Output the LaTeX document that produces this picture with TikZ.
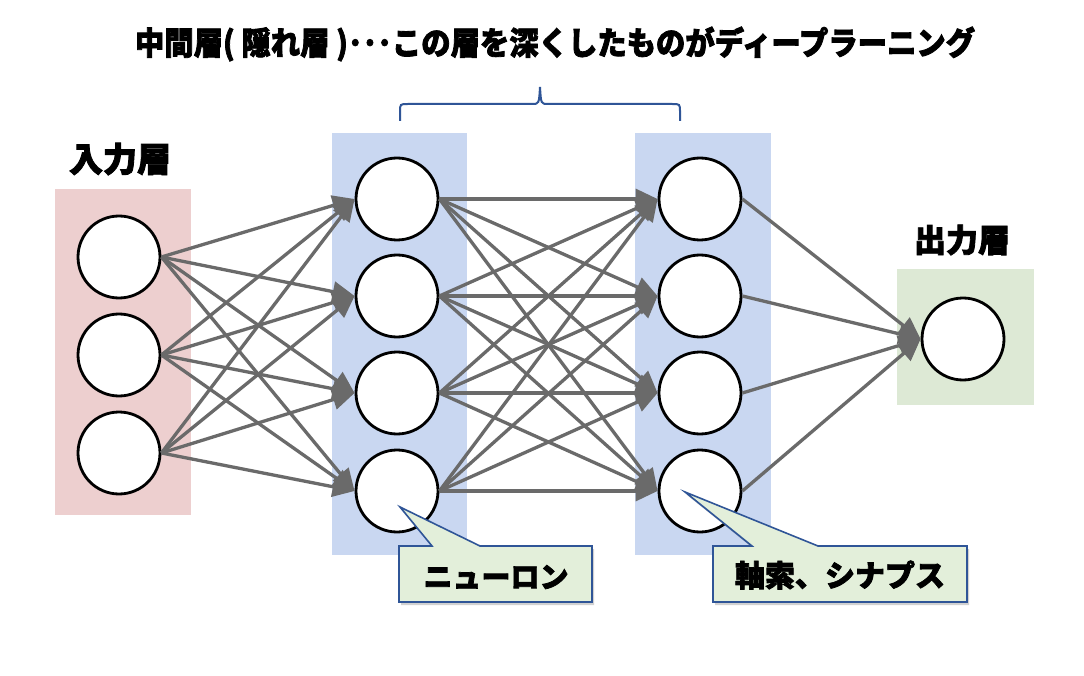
\documentclass[tikz,border=0pt]{standalone}
\usepackage{fontspec}
\usepackage{graphicx}
\setmainfont{Noto Sans CJK JP}[BoldFeatures={FakeBold=2.5}]
\usetikzlibrary{arrows.meta}
\definecolor{inpink}{HTML}{EDCFCF}
\definecolor{hidblue}{HTML}{C9D7F1}
\definecolor{outgreen}{HTML}{DDE9D5}
\definecolor{edgegray}{HTML}{6A6A6A}
\definecolor{callfill}{HTML}{E3EFDA}
\definecolor{calldraw}{HTML}{2F5597}
\begin{document}
\begin{tikzpicture}[x=1pt,y=-1pt,
  neuron/.style={circle,draw=black,line width=2.8pt,fill=white,minimum size=82pt,inner sep=0pt},
  conn/.style={draw=edgegray,line width=3.3pt,-{Triangle[length=22pt,width=20pt]}},
  lbl/.style={font=\bfseries\fontsize{#1}{#1}\selectfont,inner sep=0pt},
  bracket/.style={draw=calldraw,line width=2pt},
  callout/.style={fill=callfill,draw=calldraw,line width=1.6pt,line join=miter},
  callshadow/.style={fill=black,opacity=0.18}]
\useasboundingbox (0,0) rectangle (1084,676);
\fill[white] (0,0) rectangle (1084,676);
% layer backgrounds
\fill[inpink] (55,189) rectangle (191,515);
\fill[hidblue] (332,133) rectangle (467,555);
\fill[hidblue] (635,133) rectangle (771,555);
\fill[outgreen] (897,269) rectangle (1034,405);
% neurons
\node[neuron] (i1) at (119,257) {};
\node[neuron] (i2) at (119,355) {};
\node[neuron] (i3) at (119,453) {};
\node[neuron] (a1) at (397,199) {};
\node[neuron] (a2) at (397,296) {};
\node[neuron] (a3) at (397,393) {};
\node[neuron] (a4) at (397,491) {};
\node[neuron] (b1) at (700,199) {};
\node[neuron] (b2) at (700,296) {};
\node[neuron] (b3) at (700,393) {};
\node[neuron] (b4) at (700,491) {};
\node[neuron] (o) at (963,339) {};
% connections
\foreach \s in {1,2,3}{\foreach \t in {1,2,3,4}{\draw[conn] (i\s.east) -- (a\t.west);}}
\foreach \s in {1,2,3,4}{\foreach \t in {1,2,3,4}{\draw[conn] (a\s.east) -- (b\t.west);}}
\foreach \s in {1,2,3,4}{\draw[conn] (b\s.east) -- (o.west);}
% labels
\node[lbl=32] (title) at (555,44) {\resizebox{840pt}{\height}{中間層( 隠れ層 )･･･この層を深くしたものがディープラーニング}};
\node[lbl=34] (inlabel) at (120,159) {入力層};
\node[lbl=32] (outlabel) at (962,240) {出力層};
% bracket
\draw[bracket] (400,121) -- (400,112) .. controls (400,104) .. (408,104) -- (532,104)
  .. controls (539,104) .. (540,87) .. controls (541,104) .. (548,104) -- (672,104)
  .. controls (680,104) .. (680,112) -- (680,121);
% callouts
\fill[callshadow] (401,549) -- (434,549) -- (402,510) -- (482,549) -- (594,549) -- (594,605) -- (401,605) -- cycle;
\path[callout] (399,546) -- (432,546) -- (400,507) -- (480,546) -- (592,546) -- (592,602) -- (399,602) -- cycle;
\fill[callshadow] (715,549) -- (754,549) -- (687,495) -- (820,549) -- (969,549) -- (969,605) -- (715,605) -- cycle;
\path[callout] (713,546) -- (752,546) -- (685,492) -- (818,546) -- (967,546) -- (967,602) -- (713,602) -- cycle;
\node[lbl=29] (neurontext) at (496,577) {ニューロン};
\node[lbl=30] (axontext) at (840,575) {軸索、シナプス};
\end{tikzpicture}
\end{document}
